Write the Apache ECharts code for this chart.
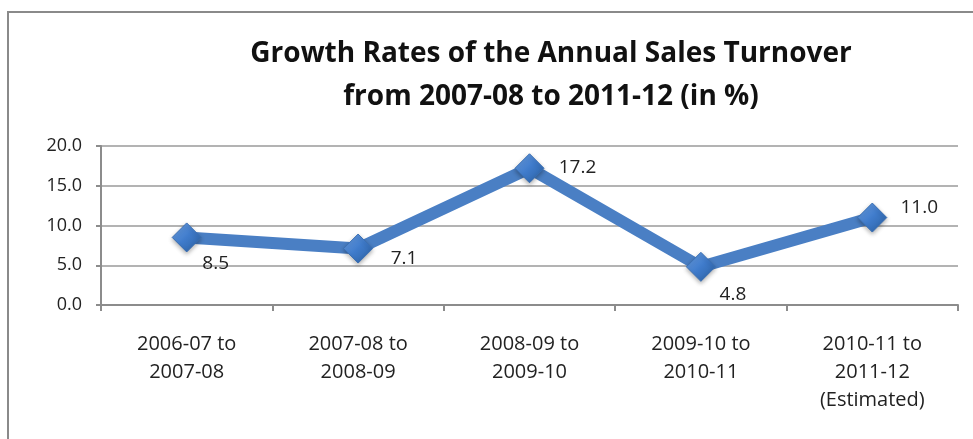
<!DOCTYPE html>
<html>
<head>
<meta charset="utf-8">
<script src="https://cdn.jsdelivr.net/npm/echarts@6/dist/echarts.min.js"></script>
<style>
  html, body { margin: 0; padding: 0; background: #ffffff; }
  #chart { width: 973px; height: 439px; }
</style>
</head>
<body>
<div id="chart"></div>
<script>
// Growth periods shown on the category axis
const periods = [
  '2006-07 to\n2007-08',
  '2007-08 to\n2008-09',
  '2008-09 to\n2009-10',
  '2009-10 to\n2010-11',
  '2010-11 to\n2011-12\n(Estimated)'
];
// Year-on-year growth of annual sales turnover, in percent
const growthRates = [8.5, 7.1, 17.2, 4.8, 11.0];
// Value-axis ticks
const yTicks = [0, 5, 10, 15, 20];

// Where each value label sits relative to its marker
const labelOffsets = [[29, 26], [46, 10], [48, -1], [32, 28], [47, -10]];

const FONT = '"Open Sans", Lato, sans-serif';
const BLUE = '#4a7fc4';

const chart = echarts.init(document.getElementById('chart'), null, { renderer: 'canvas' });

chart.setOption({
  backgroundColor: '#ffffff',
  animation: false,
  title: {
    text: 'Growth Rates of the Annual Sales Turnover\nfrom 2007-08 to 2011-12 (in %)',
    left: 546,
    top: 28,
    textAlign: 'center',
    textStyle: {
      fontFamily: FONT,
      fontWeight: 'bold',
      fontSize: 28,
      lineHeight: 43,
      color: '#111111'
    }
  },
  graphic: [{
    type: 'rect',
    shape: { x: 8, y: 12, width: 1000, height: 500 },
    style: { fill: 'none', stroke: '#8a8a8a', lineWidth: 2 },
    z: -1,
    silent: true
  }],
  grid: { left: 101, right: 15, top: 146, bottom: 134 },
  xAxis: {
    type: 'category',
    data: periods,
    boundaryGap: true,
    axisLine: { lineStyle: { color: '#8c8c8c', width: 2 } },
    axisTick: { show: true, length: 6, lineStyle: { color: '#8c8c8c', width: 2 } },
    axisLabel: {
      margin: 25,
      fontFamily: FONT,
      fontSize: 20,
      lineHeight: 28,
      color: '#222222',
      interval: 0
    }
  },
  yAxis: {
    type: 'value',
    min: yTicks[0],
    max: yTicks[yTicks.length - 1],
    interval: 5,
    axisLine: { show: true, lineStyle: { color: '#8c8c8c', width: 2 } },
    axisTick: { show: true, length: 5, lineStyle: { color: '#8c8c8c', width: 2 } },
    splitLine: { lineStyle: { color: '#9a9a9a', width: 1.5 } },
    axisLabel: {
      margin: 19,
      fontFamily: FONT,
      fontSize: 18,
      color: '#222222',
      formatter: v => v.toFixed(1)
    }
  },
  series: [{
    type: 'line',
    data: growthRates.map((v, i) => ({
      value: v,
      label: { offset: labelOffsets[i] }
    })),
    lineStyle: { color: BLUE, width: 12 },
    symbol: 'diamond',
    symbolSize: 29,
    itemStyle: {
      color: new echarts.graphic.LinearGradient(0, 0, 1, 1, [
        { offset: 0, color: '#6fa3e6' },
        { offset: 0.5, color: '#3f7bcb' },
        { offset: 1, color: '#2a5f9f' }
      ]),
      borderColor: '#3a6fb3',
      borderWidth: 1,
      shadowBlur: 4,
      shadowColor: 'rgba(0,0,0,0.3)',
      shadowOffsetY: 2
    },
    label: {
      show: true,
      position: 'inside',
      align: 'center',
      verticalAlign: 'middle',
      fontFamily: FONT,
      fontSize: 19,
      color: '#222222',
      formatter: p => p.value.toFixed(1)
    }
  }]
});
</script>
</body>
</html>
